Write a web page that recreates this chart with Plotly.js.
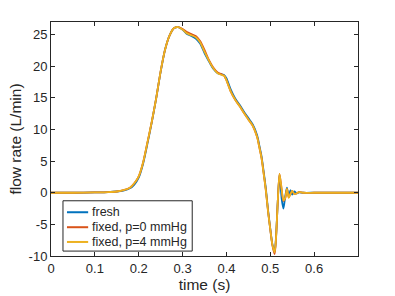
<!DOCTYPE html>
<html>
<head>
<meta charset="utf-8">
<script src="https://cdn.plot.ly/plotly-3.0.1.min.js"></script>
<style>html,body{margin:0;padding:0;background:#fff;}#chart{width:395px;height:296px;}</style>
</head>
<body>
<div id="chart"></div>
<script>
// time samples (s)
const timeMain = [0, 0.05, 0.1, 0.13, 0.15, 0.165, 0.18, 0.19, 0.2, 0.21, 0.22, 0.23, 0.24, 0.25, 0.26, 0.27, 0.28, 0.29, 0.3, 0.31, 0.32, 0.33, 0.34, 0.35, 0.36, 0.37, 0.38, 0.39, 0.395, 0.4, 0.41, 0.42, 0.43, 0.44, 0.45, 0.46, 0.47, 0.475, 0.48, 0.485, 0.49, 0.495, 0.5, 0.505, 0.51, 0.513, 0.517, 0.521];
const timeTail = [0.526, 0.53, 0.534, 0.538, 0.542, 0.546, 0.55, 0.555, 0.56, 0.565, 0.575, 0.6, 0.65, 0.7];

// flow rate (L/min)
const freshMain  = [0, 0, 0.05, 0.1, 0.2, 0.35, 0.7, 1.3, 2.4, 4.6, 7.8, 11.2, 15.0, 19.1, 22.6, 24.8, 26.0, 26.2, 25.8, 25.1, 24.8, 24.4, 23.6, 22.1, 20.8, 19.6, 18.9, 18.7, 18.6, 18.1, 16.3, 14.9, 13.9, 12.8, 11.8, 10.8, 9.1, 7.5, 5.8, 3.3, 0.6, -2.8, -5.7, -8.2, -9.3, -7.1, -1.5, 2.8];
const freshTail  = [-1.0, -2.5, -0.6, 0.8, -0.5, 0.4, -0.3, 0.2, -0.1, 0.05, 0, 0, 0, 0];
const fixed0Main = [0, 0, 0.05, 0.1, 0.2, 0.4, 0.8, 1.5, 2.6, 4.8, 8.0, 11.3, 15.0, 19.2, 22.6, 24.8, 26.0, 26.2, 25.9, 25.4, 25.1, 24.8, 24.0, 22.6, 21.0, 19.8, 19.0, 18.7, 18.5, 17.8, 16.0, 14.7, 13.7, 12.6, 11.6, 10.6, 8.8, 7.2, 5.5, 3.0, 0.3, -3.0, -5.8, -8.4, -9.7, -7.3, -1.5, 3.0];
const fixed0Tail = [0.5, -1.3, -0.9, 0.6, -0.7, -0.2, 0.3, -0.2, -0.1, 0.1, 0, 0, 0, 0];
const fixed4Main = [0, 0, 0.05, 0.1, 0.2, 0.4, 0.8, 1.5, 2.6, 4.8, 8.0, 11.3, 15.0, 19.2, 22.6, 24.8, 26.0, 26.2, 25.8, 25.2, 24.9, 24.6, 23.8, 22.3, 20.9, 19.7, 18.9, 18.6, 18.5, 17.8, 16.0, 14.7, 13.7, 12.6, 11.6, 10.6, 8.8, 7.2, 5.5, 3.0, 0.3, -3.0, -5.8, -8.3, -9.4, -7.2, -1.5, 3.0];
const fixed4Tail = [0.5, -1.2, -0.8, 0.6, -0.8, -0.2, 0.3, -0.2, -0.1, 0.1, 0, 0, 0, 0];

const seriesNames = ["fresh", "fixed, p=0 mmHg", "fixed, p=4 mmHg"];
const seriesColors = ["#0072BD", "#D95319", "#EDB120"];
const xTicks = [0, 0.1, 0.2, 0.3, 0.4, 0.5, 0.6];
const xTickText = ["0", "0.1", "0.2", "0.3", "0.4", "0.5", "0.6"];
const yTicks = [-10, -5, 0, 5, 10, 15, 20, 25];
const yTickText = ["-10", "-5", "0", "5", "10", "15", "20", "25"];

const time = timeMain.concat(timeTail);
const seriesValues = [freshMain.concat(freshTail), fixed0Main.concat(fixed0Tail), fixed4Main.concat(fixed4Tail)];

const font = "Liberation Sans, Arial, Helvetica, sans-serif";
const ink = "#262626";
const traces = seriesNames.map((n, i) => ({
  x: time, y: seriesValues[i], name: n, type: "scatter", mode: "lines", showlegend: false,
  line: {color: seriesColors[i], width: 1.8, shape: "spline", smoothing: 0.7}
}));

// manual MATLAB-style legend (paper coordinates)
const legBox = {x0: 0.039, x1: 0.460, y0: 0.021, y1: 0.236};
const legRowY = [0.187, 0.123, 0.060];
const shapes = [{type: "rect", xref: "paper", yref: "paper", x0: legBox.x0, x1: legBox.x1, y0: legBox.y0, y1: legBox.y1,
  line: {color: ink, width: 1}, fillcolor: "#fff", layer: "above"}];
const annotations = [];
seriesNames.forEach((n, i) => {
  shapes.push({type: "line", xref: "paper", yref: "paper", x0: 0.052, x1: 0.121, y0: legRowY[i], y1: legRowY[i],
    line: {color: seriesColors[i], width: 2}, layer: "above"});
  annotations.push({xref: "paper", yref: "paper", x: 0.126, y: legRowY[i], xanchor: "left", yanchor: "middle",
    text: n, showarrow: false, font: {family: font, size: 12.5, color: ink}});
});

const axisCommon = {
  showgrid: false, zeroline: false, showline: true, linecolor: ink, linewidth: 1,
  mirror: "ticks", ticks: "inside", ticklen: 4, tickcolor: ink,
  tickfont: {family: font, size: 13, color: ink}
};

const layout = {
  width: 395, height: 296,
  margin: {l: 51, r: 37, t: 22, b: 40, pad: 0},
  paper_bgcolor: "#fff", plot_bgcolor: "#fff",
  showlegend: false,
  shapes: shapes, annotations: annotations,
  xaxis: Object.assign({}, axisCommon, {
    range: [0, 0.7], tickvals: xTicks, ticktext: xTickText,
    title: {text: "time (s)", font: {family: font, size: 15.5, color: ink}, standoff: 4}
  }),
  yaxis: Object.assign({}, axisCommon, {
    range: [-10, 27], tickvals: yTicks, ticktext: yTickText,
    title: {text: "flow rate (L/min)", font: {family: font, size: 15.5, color: ink}, standoff: 3}
  })
};

Plotly.newPlot("chart", traces, layout, {staticPlot: true, displayModeBar: false});
</script>
</body>
</html>
